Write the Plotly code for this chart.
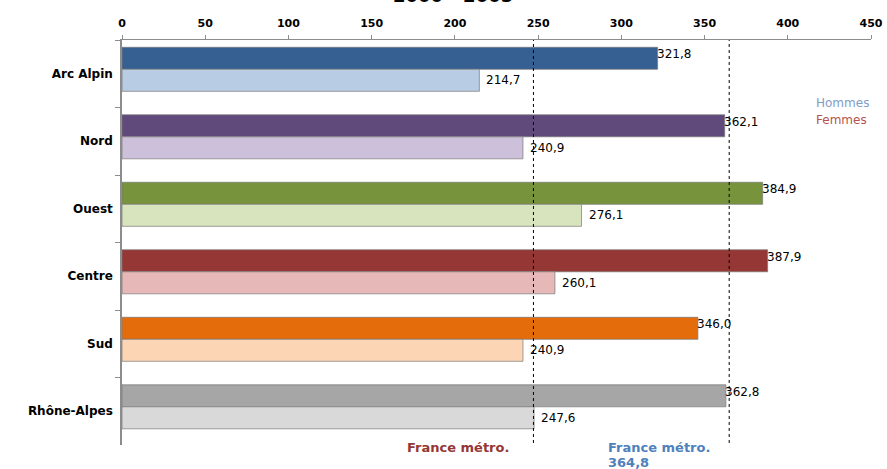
import plotly.graph_objects as go

# Regions and rates (Hommes = dark bar, Femmes = light bar)
regions = ["Arc Alpin", "Nord", "Ouest", "Centre", "Sud", "Rhône-Alpes"]
hommes = [321.8, 362.1, 384.9, 387.9, 346.0, 362.8]
femmes = [214.7, 240.9, 276.1, 260.1, 240.9, 247.6]

# Reference values for metropolitan France
france_femmes = 247.2
france_hommes = 364.8

dark_colors = ["#366092", "#604a7b", "#77933c", "#953735", "#e46c0a", "#a6a6a6"]
light_colors = ["#b8cce4", "#ccc0da", "#d7e4bd", "#e6b9b8", "#fcd5b5", "#d9d9d9"]

x_ticks = [0, 50, 100, 150, 200, 250, 300, 350, 400, 450]

FONT = "DejaVu Sans, sans-serif"
PLOT_H = 405   # plot area height in px
PLOT_W = 749   # plot area width in px
PLOT_L = 122
PLOT_T = 40


def fr(v):
    return f"{v:.1f}".replace(".", ",")


def py(px):
    """paper y coordinate from a page pixel row"""
    return 1 - (px - PLOT_T) / PLOT_H


def pxx(px):
    """paper x coordinate from a page pixel column"""
    return (px - PLOT_L) / PLOT_W


fig = go.Figure()

bar_w = 0.326
off = -0.392
fig.add_trace(go.Bar(
    y=regions, x=hommes, orientation="h", name="Hommes",
    marker=dict(color=dark_colors, line=dict(color="rgba(120,120,120,0.7)", width=1)),
    width=bar_w, offset=off, hoverinfo="x+y",
))
fig.add_trace(go.Bar(
    y=regions, x=femmes, orientation="h", name="Femmes",
    marker=dict(color=light_colors, line=dict(color="rgba(120,120,120,0.7)", width=1)),
    width=bar_w, offset=off + bar_w, hoverinfo="x+y",
))

annotations = []
for i, r in enumerate(regions):
    annotations.append(dict(
        x=hommes[i], y=i + off + bar_w / 2, xref="x", yref="y",
        text=fr(hommes[i]), showarrow=False, xanchor="left", yanchor="middle",
        xshift=-3, yshift=4, font=dict(family=FONT, size=12, color="#000"),
    ))
    annotations.append(dict(
        x=femmes[i], y=i + off + 1.5 * bar_w, xref="x", yref="y",
        text=fr(femmes[i]), showarrow=False, xanchor="left", yanchor="middle",
        xshift=5, font=dict(family=FONT, size=12, color="#000"),
    ))

# Title (partly above the page edge)
annotations.append(dict(
    x=pxx(453), y=py(-4), xref="paper", yref="paper",
    text="<b>2000 - 2005</b>", showarrow=False, xanchor="center", yanchor="middle",
    font=dict(family=FONT, size=18, color="#000"),
))

# Side legend
annotations.append(dict(
    x=pxx(814), y=py(103), xref="paper", yref="paper",
    text="Hommes", showarrow=False, xanchor="left", yanchor="middle",
    font=dict(family=FONT, size=12, color="#7f9cc6"),
))
annotations.append(dict(
    x=pxx(814), y=py(120), xref="paper", yref="paper",
    text="Femmes", showarrow=False, xanchor="left", yanchor="middle",
    font=dict(family=FONT, size=12, color="#b5524f"),
))

# Reference line captions
annotations.append(dict(
    x=pxx(458), y=py(448), xref="paper", yref="paper",
    text="<b>France métro.</b>", showarrow=False, xanchor="center", yanchor="middle",
    font=dict(family=FONT, size=13, color="#953735"),
))
annotations.append(dict(
    x=pxx(606), y=py(448), xref="paper", yref="paper",
    text="<b>France métro.</b>", showarrow=False, xanchor="left", yanchor="middle",
    font=dict(family=FONT, size=13, color="#4f81bd"),
))
annotations.append(dict(
    x=pxx(606), y=py(462), xref="paper", yref="paper",
    text="<b>" + fr(france_hommes) + "</b>", showarrow=False, xanchor="left",
    yanchor="middle", font=dict(family=FONT, size=13, color="#4f81bd"),
))

shapes = []
for v in (france_femmes, france_hommes):
    shapes.append(dict(
        type="line", xref="x", yref="paper", x0=v, x1=v, y0=0.005, y1=1.0,
        line=dict(color="#000", width=1, dash="dot"),
    ))

fig.update_layout(
    width=887, height=469,
    margin=dict(l=PLOT_L, r=887 - PLOT_L - PLOT_W, t=PLOT_T, b=469 - PLOT_T - PLOT_H),
    paper_bgcolor="white", plot_bgcolor="white",
    showlegend=False, barmode="overlay",
    font=dict(family=FONT, size=11, color="#000"),
    annotations=annotations, shapes=shapes,
    xaxis=dict(
        side="top", range=[0, 450], tickvals=x_ticks, ticktext=[str(t) for t in x_ticks],
        showline=True, linecolor="#8c8c8c", linewidth=1, ticks="outside",
        ticklen=4, tickcolor="#8c8c8c", showgrid=False, zeroline=False,
        ticklabelstandoff=4, automargin=False,
        tickfont=dict(family=FONT, size=11, color="#000", weight="bold"),
    ),
    yaxis=dict(
        categoryorder="array", categoryarray=regions, autorange="reversed",
        showline=True, linecolor="#8c8c8c", linewidth=1.5, ticks="outside",
        ticklen=5, tickcolor="#8c8c8c", tickson="boundaries", showgrid=False,
        ticklabelstandoff=5, automargin=False,
        tickfont=dict(family=FONT, size=12, color="#000", weight="bold"),
    ),
)

fig.write_html("out.html")
